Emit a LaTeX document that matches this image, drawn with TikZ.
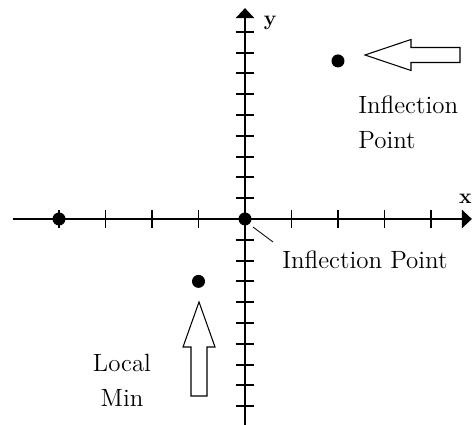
\documentclass[tikz,border=0pt]{standalone}
\usetikzlibrary{arrows.meta}

\begin{document}
\begin{tikzpicture}[
    x=0.93cm, y=0.416cm,
    axis/.style={line width=1.7pt, -{Triangle[length=0.2cm, width=0.36cm]}},
    tck/.style={line width=1.1pt},
    dot/.style={circle, fill=black, inner sep=0pt, minimum size=0.26cm},
    hollow/.style={draw, line width=0.6pt, fill=white},
    lbl/.style={font=\fontsize{14.2}{19.9}\selectfont, inner sep=0pt},
    axlbl/.style={font=\fontsize{12}{14}\selectfont\bfseries, inner sep=0pt}
]
\useasboundingbox (-5.269,-9.904) rectangle (4.882,10.529);

% axes and ticks
\coordinate (xl) at (-5,0);
\coordinate (xr) at (4.88,0);
\coordinate (yb) at (0,-10);
\coordinate (yt) at (0,10.14);
\draw[axis] (xl) -- (xr);
\draw[axis] (yb) -- (yt);
\foreach \i in {-4,...,-1,1,2,3,4}
  \draw[tck] (\i,-0.43) -- (\i,0.43);
\foreach \j in {-9,...,-1,1,2,...,9}
  \draw[tck] (-0.194,\j) -- (0.194,\j);
\node[axlbl, anchor=base] (xlbl) at (4.74,0.769) {x};
\node[axlbl, anchor=base] (ylbl) at (0.538,9.279) {y};

% points
\node[dot] (pl) at (-4,0) {};
\node[dot] (po) at (0,0) {};
\node[dot] (pm) at (-1,-3) {};
\node[dot] (pt) at (2,7.6) {};

% hollow arrows
\draw[hollow] (2.581,7.885) -- (3.570,8.63) -- (3.570,8.245) -- (4.624,8.245)
  -- (4.624,7.525) -- (3.570,7.525) -- (3.570,7.14) -- cycle;
\draw[hollow] (-0.989,-3.99) -- (-0.645,-6.154) -- (-0.817,-6.154) -- (-0.817,-8.51)
  -- (-1.161,-8.51) -- (-1.161,-6.154) -- (-1.333,-6.154) -- cycle;

% labels
\node[lbl, align=left, anchor=west] (infltop) at (2.430,4.663) {Inflection\\Point};
\node[lbl, anchor=base west] (inflorig) at (0.796,-2.356) {Inflection Point};
\node[lbl, align=center] (locmin) at (-2.645,-7.764) {Local\\Min};

\coordinate (ldA) at (0.172,-0.385);
\coordinate (ldB) at (0.602,-1.106);
\draw[line width=0.5pt] (ldA) -- (ldB);
\end{tikzpicture}
\end{document}
